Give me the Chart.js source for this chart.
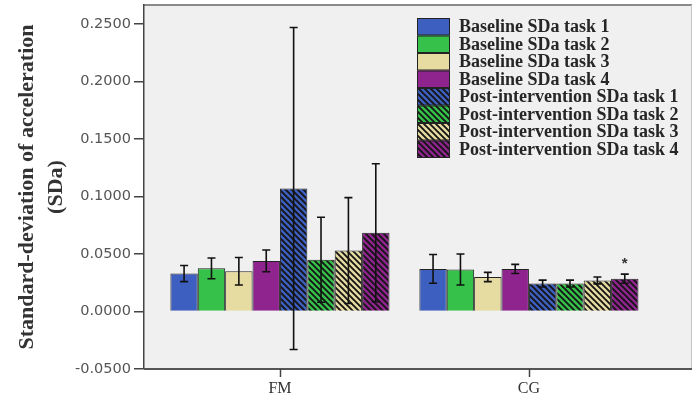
<!DOCTYPE html>
<html>
<head>
<meta charset="utf-8">
<script src="https://cdn.jsdelivr.net/npm/chart.js@4"></script>
<style>
  html, body { margin: 0; padding: 0; background: #fff; }
  #c { display: block; }
</style>
</head>
<body>
<canvas id="c" width="695" height="396"></canvas>
<script>
// data
const categories = ['FM', 'CG'];
const seriesLabels = [
    'Baseline SDa task 1',
    'Baseline SDa task 2',
    'Baseline SDa task 3',
    'Baseline SDa task 4',
    'Post-intervention SDa task 1',
    'Post-intervention SDa task 2',
    'Post-intervention SDa task 3',
    'Post-intervention SDa task 4'
];
const fmMeans = [0.033, 0.0375, 0.035, 0.044, 0.107, 0.045, 0.053, 0.0685];
const fmErr = [0.007, 0.009, 0.012, 0.0095, 0.140, 0.037, 0.046, 0.060];
const cgMeans = [0.037, 0.0365, 0.030, 0.037, 0.0243, 0.0243, 0.027, 0.0285];
const cgErr = [0.0125, 0.0135, 0.004, 0.004, 0.003, 0.003, 0.003, 0.004];
const cgMarks = ['', '', '', '', '', '', '', '*'];
const yTicks = [-0.05, 0, 0.05, 0.1, 0.15, 0.2, 0.25];

const baseColors = ['#3d5fbf', '#36c24a', '#e6dba0', '#8f248f'];

const canvas = document.getElementById('c');
const ctx = canvas.getContext('2d');

function hatch(color) {
    const tile = document.createElement('canvas');
    tile.width = 6;
    tile.height = 6;
    const g = tile.getContext('2d');
    g.fillStyle = color;
    g.fillRect(0, 0, 6, 6);
    g.strokeStyle = '#151515';
    g.lineWidth = 1.9;
    g.beginPath();
    g.moveTo(-1, -1); g.lineTo(7, 7);
    g.moveTo(5, -1); g.lineTo(7, 1);
    g.moveTo(-1, 5); g.lineTo(1, 7);
    g.stroke();
    return ctx.createPattern(tile, 'repeat');
}

const fills = seriesLabels.map((l, i) => i < 4 ? baseColors[i] : hatch(baseColors[i - 4]));
const means = [fmMeans, cgMeans];
const errs = [fmErr, cgErr];

// plot background + frame
const frame = {
    id: 'frame',
    beforeDraw(chart) {
        const a = chart.chartArea;
        const c = chart.ctx;
        c.save();
        c.fillStyle = '#f0f0f0';
        c.fillRect(a.left, a.top, a.right - a.left, a.bottom - a.top);
        c.strokeStyle = '#8a8a8a';
        c.lineWidth = 2;
        c.beginPath();
        c.moveTo(a.left, a.top);
        c.lineTo(a.right, a.top);
        c.stroke();
        c.strokeStyle = '#c4c4c4';
        c.lineWidth = 1;
        c.beginPath();
        c.moveTo(a.right - 0.5, a.top);
        c.lineTo(a.right - 0.5, a.bottom);
        c.stroke();
        c.restore();
    },
    afterDraw(chart) {
        // bottom axis line and small category tick marks
        const a = chart.chartArea;
        const x = chart.scales.x;
        const c = chart.ctx;
        c.save();
        c.strokeStyle = '#555';
        c.lineWidth = 2;
        c.beginPath();
        c.moveTo(a.left, a.bottom);
        c.lineTo(a.right, a.bottom);
        c.stroke();
        c.strokeStyle = '#444';
        c.lineWidth = 1.5;
        categories.forEach((cat, j) => {
            const px = Math.round(x.getPixelForValue(j)) + 0.5;
            c.beginPath();
            c.moveTo(px, a.bottom);
            c.lineTo(px, a.bottom + 8);
            c.stroke();
        });
        c.restore();
    }
};

// error bars, asterisk and legend
const extras = {
    id: 'extras',
    afterDatasetsDraw(chart) {
        const c = chart.ctx;
        const y = chart.scales.y;
        c.save();
        c.strokeStyle = '#111';
        c.lineWidth = 1.6;
        chart.data.datasets.forEach((ds, i) => {
            const meta = chart.getDatasetMeta(i);
            meta.data.forEach((bar, j) => {
                const m = means[j][i];
                const e = errs[j][i];
                const yHi = y.getPixelForValue(m + e);
                const yLo = y.getPixelForValue(m - e);
                c.beginPath();
                c.moveTo(bar.x, yHi); c.lineTo(bar.x, yLo);
                c.moveTo(bar.x - 4, yHi); c.lineTo(bar.x + 4, yHi);
                c.moveTo(bar.x - 4, yLo); c.lineTo(bar.x + 4, yLo);
                c.stroke();
                if (j === 1 && cgMarks[i]) {
                    c.fillStyle = '#333';
                    c.font = 'bold 15px "Liberation Sans"';
                    c.textAlign = 'center';
                    c.textBaseline = 'middle';
                    c.fillText(cgMarks[i], bar.x, yHi - 10);
                }
            });
        });
        c.restore();
    },
    afterDraw(chart) {
        const c = chart.ctx;
        const x0 = 417, y0 = 18, w = 33, h = 17.5;
        c.save();
        seriesLabels.forEach((label, i) => {
            const top = y0 + i * h;
            c.fillStyle = fills[i];
            c.fillRect(x0, top, w, h);
            c.strokeStyle = '#222';
            c.lineWidth = 1;
            c.strokeRect(x0 + 0.5, top + 0.5, w - 1, h - 1);
            c.fillStyle = '#262626';
            c.font = 'bold 18px "Liberation Serif"';
            c.textAlign = 'left';
            c.textBaseline = 'middle';
            c.fillText(label, 459, top + h / 2 + 1);
        });
        c.restore();
    }
};

const datasets = seriesLabels.map((label, i) => ({
    label: label,
    data: categories.map((cat, j) => ({ x: j, y: means[j][i] })),
    backgroundColor: fills[i],
    borderColor: '#222',
    borderWidth: 1
}));

new Chart(ctx, {
    type: 'bar',
    data: { datasets: datasets },
    options: {
        responsive: false,
        animation: false,
        categoryPercentage: 0.88,
        barPercentage: 1,
        layout: { padding: { top: 5, right: 3, left: 0, bottom: 0 } },
        plugins: {
            legend: { display: false },
            tooltip: { enabled: false }
        },
        scales: {
            x: {
                type: 'linear',
                min: -0.546,
                max: 1.655,
                offset: false,
                afterBuildTicks: (scale) => {
                    scale.ticks = categories.map((c, j) => ({ value: j }));
                },
                afterFit: (scale) => {
                    scale.height = 27;
                    scale.paddingLeft = 0;
                    scale.paddingRight = 0;
                },
                grid: { display: false, drawTicks: false },
                border: { display: false },
                ticks: {
                    padding: 10,
                    color: '#333',
                    font: { family: 'Liberation Serif', size: 16 },
                    callback: (v) => categories[v]
                }
            },
            y: {
                min: -0.05,
                max: 0.2665,
                afterBuildTicks: (scale) => {
                    scale.ticks = yTicks.map(v => ({ value: v }));
                },
                afterFit: (scale) => {
                    scale.width = 144;
                    scale.paddingTop = 0;
                    scale.paddingBottom = 0;
                },
                grid: { drawOnChartArea: false, drawTicks: true, tickLength: 10, color: '#444', lineWidth: 1.5 },
                border: { display: true, color: '#444', width: 1.5 },
                ticks: {
                    padding: 3,
                    color: '#555',
                    font: { family: 'DejaVu Sans', size: 14.5 },
                    callback: (v) => v.toFixed(4)
                },
                title: {
                    display: true,
                    text: ['Standard-deviation of acceleration', '(SDa)'],
                    color: '#333',
                    font: { family: 'Liberation Serif', size: 22, weight: 'bold', lineHeight: 1.35 },
                    padding: { top: 12, bottom: 0 }
                }
            }
        }
    },
    plugins: [frame, extras]
});
</script>
</body>
</html>
